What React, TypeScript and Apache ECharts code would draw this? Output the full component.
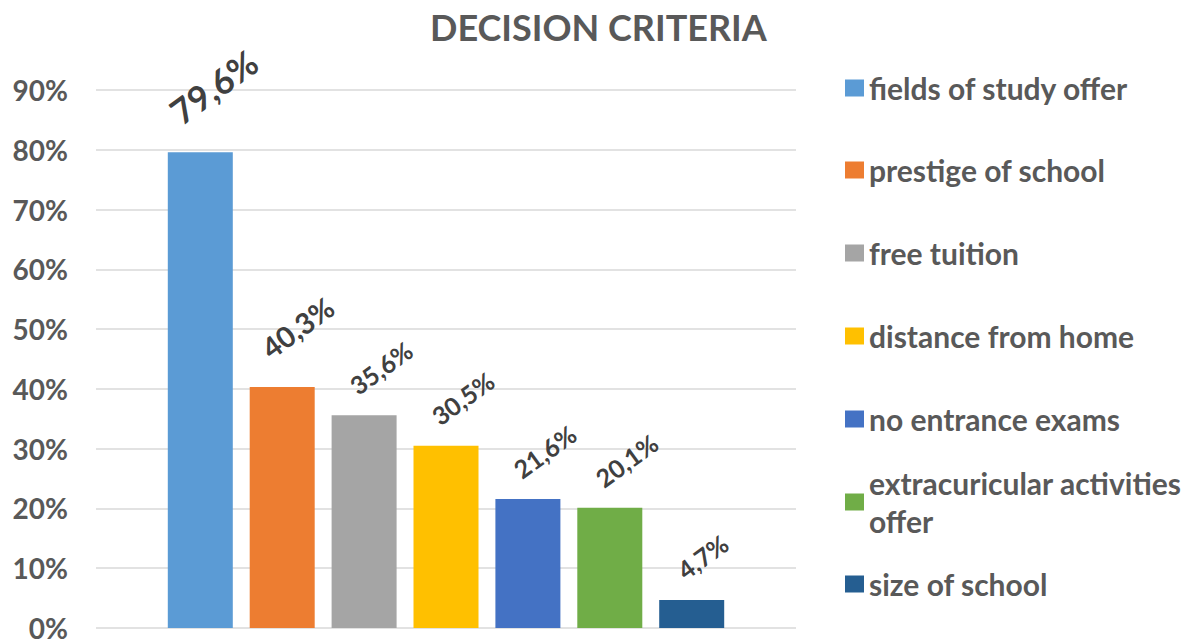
import React, { useEffect, useRef } from "react";
import * as echarts from "echarts";

// Survey results: share of respondents naming each decision criterion (%)
const criteria = [
  "fields of study offer",
  "prestige of school",
  "free tuition",
  "distance from home",
  "no entrance exams",
  "extracuricular activities offer",
  "size of school",
];
const shares = [79.6, 40.3, 35.6, 30.5, 21.6, 20.1, 4.7];
const yTicks = [0, 10, 20, 30, 40, 50, 60, 70, 80, 90];

const palette = ["#5B9BD5", "#ED7D31", "#A5A5A5", "#FFC000", "#4472C4", "#70AD47", "#255E91"];
const FONT = "Lato";

// legend rows (vertical centre of each entry's first line)
const legendRows = [88, 170, 253, 336, 419, 502, 584];

function labelStyle(i: number) {
  // the two leading criteria get larger value labels
  const size = i === 0 ? 35 : i === 1 ? 29 : 25;
  const pos = i === 0 ? [6, -37] : i === 1 ? [15, -36] : [21, -27];
  return {
    show: true,
    position: pos,
    rotate: 36,
    align: "left",
    verticalAlign: "middle",
    fontFamily: FONT,
    fontWeight: "bold",
    fontSize: size,
    color: "#404040",
    formatter: (p: any) => p.value.toFixed(1).replace(".", ",") + "%",
  };
}

export default function App() {
  const ref = useRef<HTMLDivElement>(null);

  useEffect(() => {
    if (!ref.current) return;
    const chart = echarts.init(ref.current, null, { renderer: "svg" });
    const lineH = 38;
    chart.setOption({
      animation: false,
      backgroundColor: "#ffffff",
      title: {
        text: "DECISION CRITERIA",
        left: 425,
        top: 4,
        textStyle: { fontFamily: FONT, fontWeight: "bold", fontSize: 36, color: "#595959" },
      },
      legend: criteria.map((name, i) => ({
        data: [name],
        orient: "vertical",
        left: 845,
        top: legendRows[i] - (i === 5 ? lineH * 1.5 : lineH / 2),
        padding: 0,
        itemWidth: 19,
        itemHeight: 17,
        itemGap: 0,
        selectedMode: false,
        icon: "rect",
        formatter: (n: string) => (n === criteria[5] ? "extracuricular activities\noffer" : n),
        textStyle: {
          fontFamily: FONT,
          fontWeight: "bold",
          fontSize: 30,
          color: "#595959",
          lineHeight: lineH,
          padding: i === 5 ? [lineH, 0, 0, 0] : 0,
        },
      })),
      grid: { left: 96, right: 385, top: 90, bottom: 10, containLabel: false },
      xAxis: {
        type: "category",
        data: [""],
        axisLine: { show: false },
        axisTick: { show: false },
        axisLabel: { show: false },
      },
      yAxis: {
        type: "value",
        min: yTicks[0],
        max: yTicks[yTicks.length - 1],
        interval: 10,
        axisLine: { show: false },
        axisTick: { show: false },
        splitLine: { lineStyle: { color: "#D9D9D9", width: 1.5 } },
        axisLabel: {
          formatter: "{value}%",
          margin: 28,
          fontFamily: FONT,
          fontWeight: "bold",
          fontSize: 28,
          color: "#595959",
        },
      },
      series: criteria.map((name, i) => ({
        name,
        type: "bar",
        data: [shares[i]],
        barWidth: 65,
        barGap: "26%",
        itemStyle: { color: palette[i] },
        label: labelStyle(i),
      })),
    });
    return () => chart.dispose();
  }, []);

  return <div ref={ref} style={{ position: "fixed", left: 0, top: 0, width: 1181, height: 642 }} />;
}
